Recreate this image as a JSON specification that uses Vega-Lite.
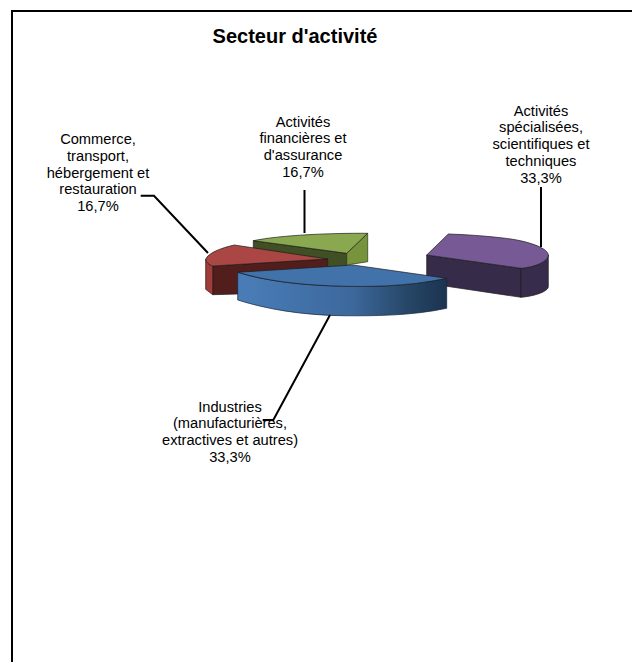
{
"$schema":"https://vega.github.io/schema/vega-lite/v6.json",
"width":632,"height":662,"padding":0,"autosize":{"type":"none"},"background":"white",
"title":{"text":"Secteur d'activité","font":"Liberation Sans","fontSize":20,"fontWeight":"bold","color":"black","anchor":"middle","dx":-21,"offset":-63,"baseline":"alphabetic"},
"config":{"view":{"stroke":null}},
"data":{"values":[
{"slice":"Spécialisées","share":33.3,"label":"Activités\nspécialisées,\nscientifiques et\ntechniques\n33,3%"},
{"slice":"Financières","share":16.7,"label":"Activités\nfinancières et\nd'assurance\n16,7%"},
{"slice":"Commerce","share":16.7,"label":"Commerce,\ntransport,\nhébergement et\nrestauration\n16,7%"},
{"slice":"Industries","share":33.3,"label":"Industries\n(manufacturières,\nextractives et autres)\n33,3%"}
]},
"resolve":{"scale":{"shape":"independent","fill":"independent"}},
"layer":[
{"data":{"values":[{"element":"frame"}]},
 "mark":{"type":"point","filled":false,"size":4,"opacity":1,"stroke":"black","strokeWidth":2,"shape":"M -304 340 L -304 -320 L 330 -320"}},
{"transform":[{"filter":{"not":{"field":"slice","equal":"Industries"}}}],
 "mark":{"type":"point","filled":true,"size":4,"opacity":1,"stroke":"#1c1c1c","strokeWidth":0.7},
 "encoding":{
  "shape":{"field":"slice","type":"nominal","legend":null,"scale":{"domain":["Spécialisées","Financières","Commerce"],"range":[
   "M 110.7 -76 L 205 -62.7 L 205 -33.7 L 110.7 -47.7 Z",
   "M -62.7 -90.3 L 30.7 -77.7 L 30.7 -60 L -62.7 -60 Z",
   "M -103.3 -65 L 11.7 -72 L 11.7 -40 L -78 -37 L -103.3 -36.3 Z"]}},
  "fill":{"field":"slice","type":"nominal","legend":null,"scale":{"domain":["Spécialisées","Financières","Commerce"],"range":["#372b4a","#414f24","#511e1c"]}}}},
{"transform":[{"filter":{"field":"slice","equal":"Spécialisées"}}],
 "mark":{"type":"point","filled":true,"size":4,"opacity":1,"fill":"#382c4c","stroke":"#1c1c1c","strokeWidth":0.7,"shape":"M 205 -62.7 C 220 -64 232.3 -70 232.3 -76 L 232.3 -44.3 C 232.3 -40 220 -35 205 -33.7 Z"}},
{"transform":[{"filter":{"field":"slice","equal":"Financières"}}],
 "mark":{"type":"point","filled":true,"size":4,"opacity":1,"fill":"#77933c","stroke":"#2a3316","strokeWidth":0.7,"shape":"M 30.7 -77.7 L 51.7 -97.7 L 51.7 -69.3 L 30.7 -66 Z"}},
{"transform":[{"filter":{"field":"slice","equal":"Commerce"}}],
 "mark":{"type":"point","filled":true,"size":4,"opacity":1,"fill":"#9f3c3a","stroke":"#2c1010","strokeWidth":0.7,"shape":"M -110.3 -71.7 L -103.3 -65 L -103.3 -36.3 L -110.3 -41.7 Z"}},
{"transform":[{"filter":{"field":"slice","equal":"Industries"}}],
 "mark":{"type":"point","filled":true,"size":4,"opacity":1,"stroke":"#16263c","strokeWidth":0.7,
  "fill":{"x1":0,"x2":1,"y1":0,"y2":0,"gradient":"linear","stops":[{"offset":0,"color":"#4a7db8"},{"offset":0.55,"color":"#3c689c"},{"offset":0.8,"color":"#284869"},{"offset":1,"color":"#1b3350"}]},
  "shape":"M -78.3 -58.7 C -50 -50 -15 -46 20 -45 C 50 -44 90 -44 130.7 -52.7 L 130.7 -22.7 C 95 -15 55 -15 25 -15.3 C -15 -16 -50 -22 -78.3 -31 Z"}},
{"mark":{"type":"point","filled":true,"size":4,"opacity":1,"stroke":"#1c1c1c","strokeWidth":0.7},
 "encoding":{
  "shape":{"field":"slice","type":"nominal","legend":null,"scale":{"domain":["Spécialisées","Financières","Commerce","Industries"],"range":[
   "M 132.3 -97 L 110.7 -76 L 205 -62.7 C 220 -64 232.3 -70 232.3 -76 C 232.3 -82 215 -90 187 -93 C 170 -95 150 -96.5 132.3 -97 Z",
   "M -62.7 -90.3 C -35 -96 15 -98 51.7 -97.7 L 30.7 -77.7 Z",
   "M -110.3 -71.7 C -108 -78 -95 -83 -81.7 -86 L 11.7 -72 L -103.3 -65 C -107 -66 -110 -69 -110.3 -71.7 Z",
   "M -78.3 -58.7 L 37 -66 L 130.7 -52.7 C 90 -44 50 -44 20 -45 C -15 -46 -50 -50 -78.3 -58.7 Z"]}},
  "fill":{"field":"slice","type":"nominal","legend":null,"scale":{"domain":["Spécialisées","Financières","Commerce","Industries"],"range":["#775a95","#8aa84f","#aa4644","#4272aa"]}}}},
{"transform":[{"filter":{"field":"slice","equal":"Spécialisées"}}],
 "mark":{"type":"text","font":"Liberation Sans","fontSize":14.67,"lineBreak":"\n","lineHeight":16.8,"align":"center","baseline":"alphabetic","color":"black","dx":225,"dy":-215.5},
 "encoding":{"text":{"field":"label"}}},
{"transform":[{"filter":{"field":"slice","equal":"Financières"}}],
 "mark":{"type":"text","font":"Liberation Sans","fontSize":14.67,"lineBreak":"\n","lineHeight":16.8,"align":"center","baseline":"alphabetic","color":"black","dx":-13,"dy":-204.5},
 "encoding":{"text":{"field":"label"}}},
{"transform":[{"filter":{"field":"slice","equal":"Commerce"}}],
 "mark":{"type":"text","font":"Liberation Sans","fontSize":14.67,"lineBreak":"\n","lineHeight":16.8,"align":"center","baseline":"alphabetic","color":"black","dx":-218,"dy":-187},
 "encoding":{"text":{"field":"label"}}},
{"transform":[{"filter":{"field":"slice","equal":"Industries"}}],
 "mark":{"type":"text","font":"Liberation Sans","fontSize":14.67,"lineBreak":"\n","lineHeight":16.8,"align":"center","baseline":"alphabetic","color":"black","dx":-86,"dy":80.7},
 "encoding":{"text":{"field":"label"}}},
{"mark":{"type":"point","filled":false,"size":4,"opacity":1,"stroke":"black","strokeWidth":2},
 "encoding":{
  "shape":{"field":"slice","type":"nominal","legend":null,"scale":{"domain":["Spécialisées","Financières","Commerce","Industries"],"range":[
   "M 225 -144 L 225 -84",
   "M -11.5 -141 L -11.5 -98",
   "M -175.3 -135.3 L -162 -135.3 L -108 -78",
   "M 14 -16 L -42.7 89 L -53.3 89"]}}}}
]
}
